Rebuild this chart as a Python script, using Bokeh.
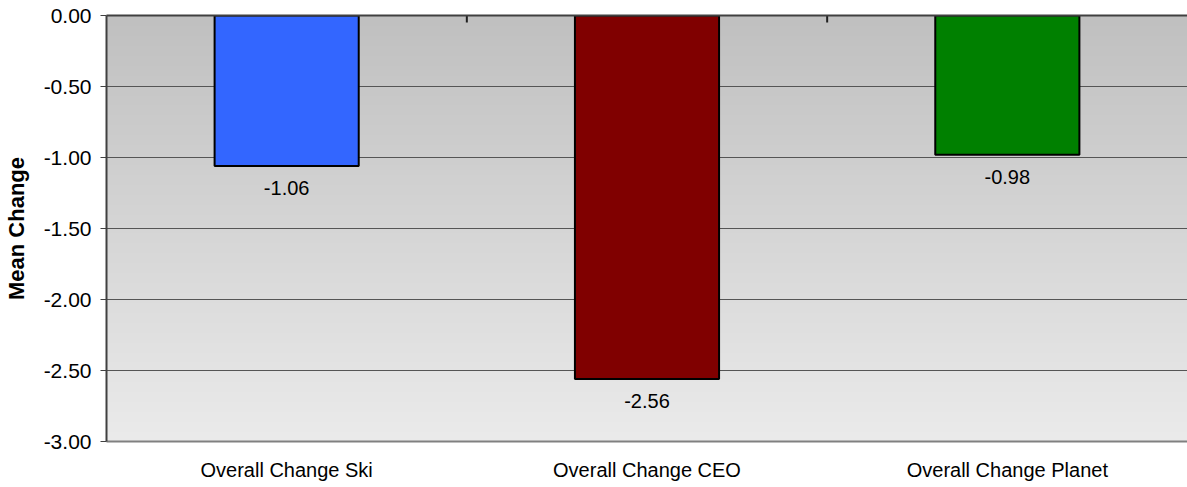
import numpy as np
from bokeh.plotting import figure
from bokeh.models import (ColumnDataSource, Range1d, LinearAxis, FixedTicker,
                          NumeralTickFormatter, LabelSet)
from bokeh.core.properties import value
from bokeh.embed import file_html
from bokeh.resources import INLINE

categories = ["Overall Change Ski", "Overall Change CEO", "Overall Change Planet"]
values = [-1.06, -2.56, -0.98]
colors = ["#3366FF", "#800000", "#008000"]
y_ticks = [0.0, -0.5, -1.0, -1.5, -2.0, -2.5, -3.0]

xpos = [i + 0.5 for i in range(len(categories))]
src = ColumnDataSource(dict(x=xpos, top=[0.0] * len(values), bottom=values,
                            color=colors, label=[f"{v:.2f}" for v in values]))

FONT = "Liberation Sans"
p = figure(width=1187, height=487, output_backend="svg", toolbar_location=None,
           x_range=Range1d(0, len(categories)), y_range=Range1d(-3, 0),
           min_border_left=106, min_border_top=15, min_border_bottom=46, min_border_right=0,
           x_axis_location=None, y_axis_location=None)
p.outline_line_color = None
p.background_fill_color = "#ffffff"
p.border_fill_color = "#ffffff"

# gradient background
n = 300
g = np.linspace(192, 235, n)[::-1]
img = np.zeros((n, 2), dtype=np.uint32)
view = img.view(dtype=np.uint8).reshape((n, 2, 4))
for i in range(n):
    c = int(g[i])
    view[i, :, 0] = c
    view[i, :, 1] = c
    view[i, :, 2] = c
    view[i, :, 3] = 255
bg = p.image_rgba(image=[img], x=0, y=-3, dw=len(categories), dh=3)
bg.level = "image"

p.xgrid.visible = False
p.ygrid.ticker = FixedTicker(ticks=y_ticks)
p.ygrid.grid_line_color = "#555555"
p.ygrid.grid_line_width = 1

p.vbar(x="x", top="top", bottom="bottom", width=0.4, source=src,
       fill_color="color", line_color="#000000", line_width=2)

# category separator ticks on the zero line
bounds = [float(i) for i in range(1, len(categories))]
p.scatter(x=bounds, y=[0.0] * len(bounds), marker="dash", angle=np.pi / 2,
          size=14, line_color="#202020", line_width=2)

labels = LabelSet(x="x", y="bottom", text="label", source=src, text_align="center",
                  text_baseline="middle", y_offset=-22, text_font=value(FONT),
                  text_font_size="20px", text_color="#000000")
p.add_layout(labels)

# left axis
yaxis = LinearAxis(ticker=FixedTicker(ticks=y_ticks),
                   formatter=NumeralTickFormatter(format="0.00"),
                   axis_label="Mean Change")
yaxis.axis_line_color = "#404040"
yaxis.axis_line_width = 2
yaxis.major_tick_line_color = "#404040"
yaxis.major_tick_out = 6
yaxis.major_tick_in = 0
yaxis.minor_tick_line_color = None
yaxis.major_label_text_font = FONT
yaxis.major_label_text_font_size = "21px"
yaxis.major_label_text_color = "#000000"
yaxis.major_label_standoff = 9
yaxis.axis_label_text_font = FONT
yaxis.axis_label_text_font_size = "22px"
yaxis.axis_label_text_font_style = "bold"
yaxis.axis_label_text_color = "#000000"
yaxis.axis_label_standoff = 12
p.add_layout(yaxis, "left")

# bottom axis (category labels)
xaxis = LinearAxis(ticker=FixedTicker(ticks=xpos),
                   major_label_overrides={x: c for x, c in zip(xpos, categories)})
xaxis.axis_line_color = "#808080"
xaxis.axis_line_width = 2
xaxis.major_tick_line_color = None
xaxis.minor_tick_line_color = None
xaxis.major_label_text_font = FONT
xaxis.major_label_text_font_size = "20px"
xaxis.major_label_text_color = "#000000"
xaxis.major_label_standoff = 11
p.add_layout(xaxis, "below")

# top line at zero
top_axis = LinearAxis(ticker=FixedTicker(ticks=[]))
top_axis.axis_line_color = "#404040"
top_axis.axis_line_width = 2
top_axis.major_tick_line_color = None
top_axis.minor_tick_line_color = None
top_axis.major_label_text_color = None
p.add_layout(top_axis, "above")

open("out.html", "w").write(file_html(p, INLINE))
